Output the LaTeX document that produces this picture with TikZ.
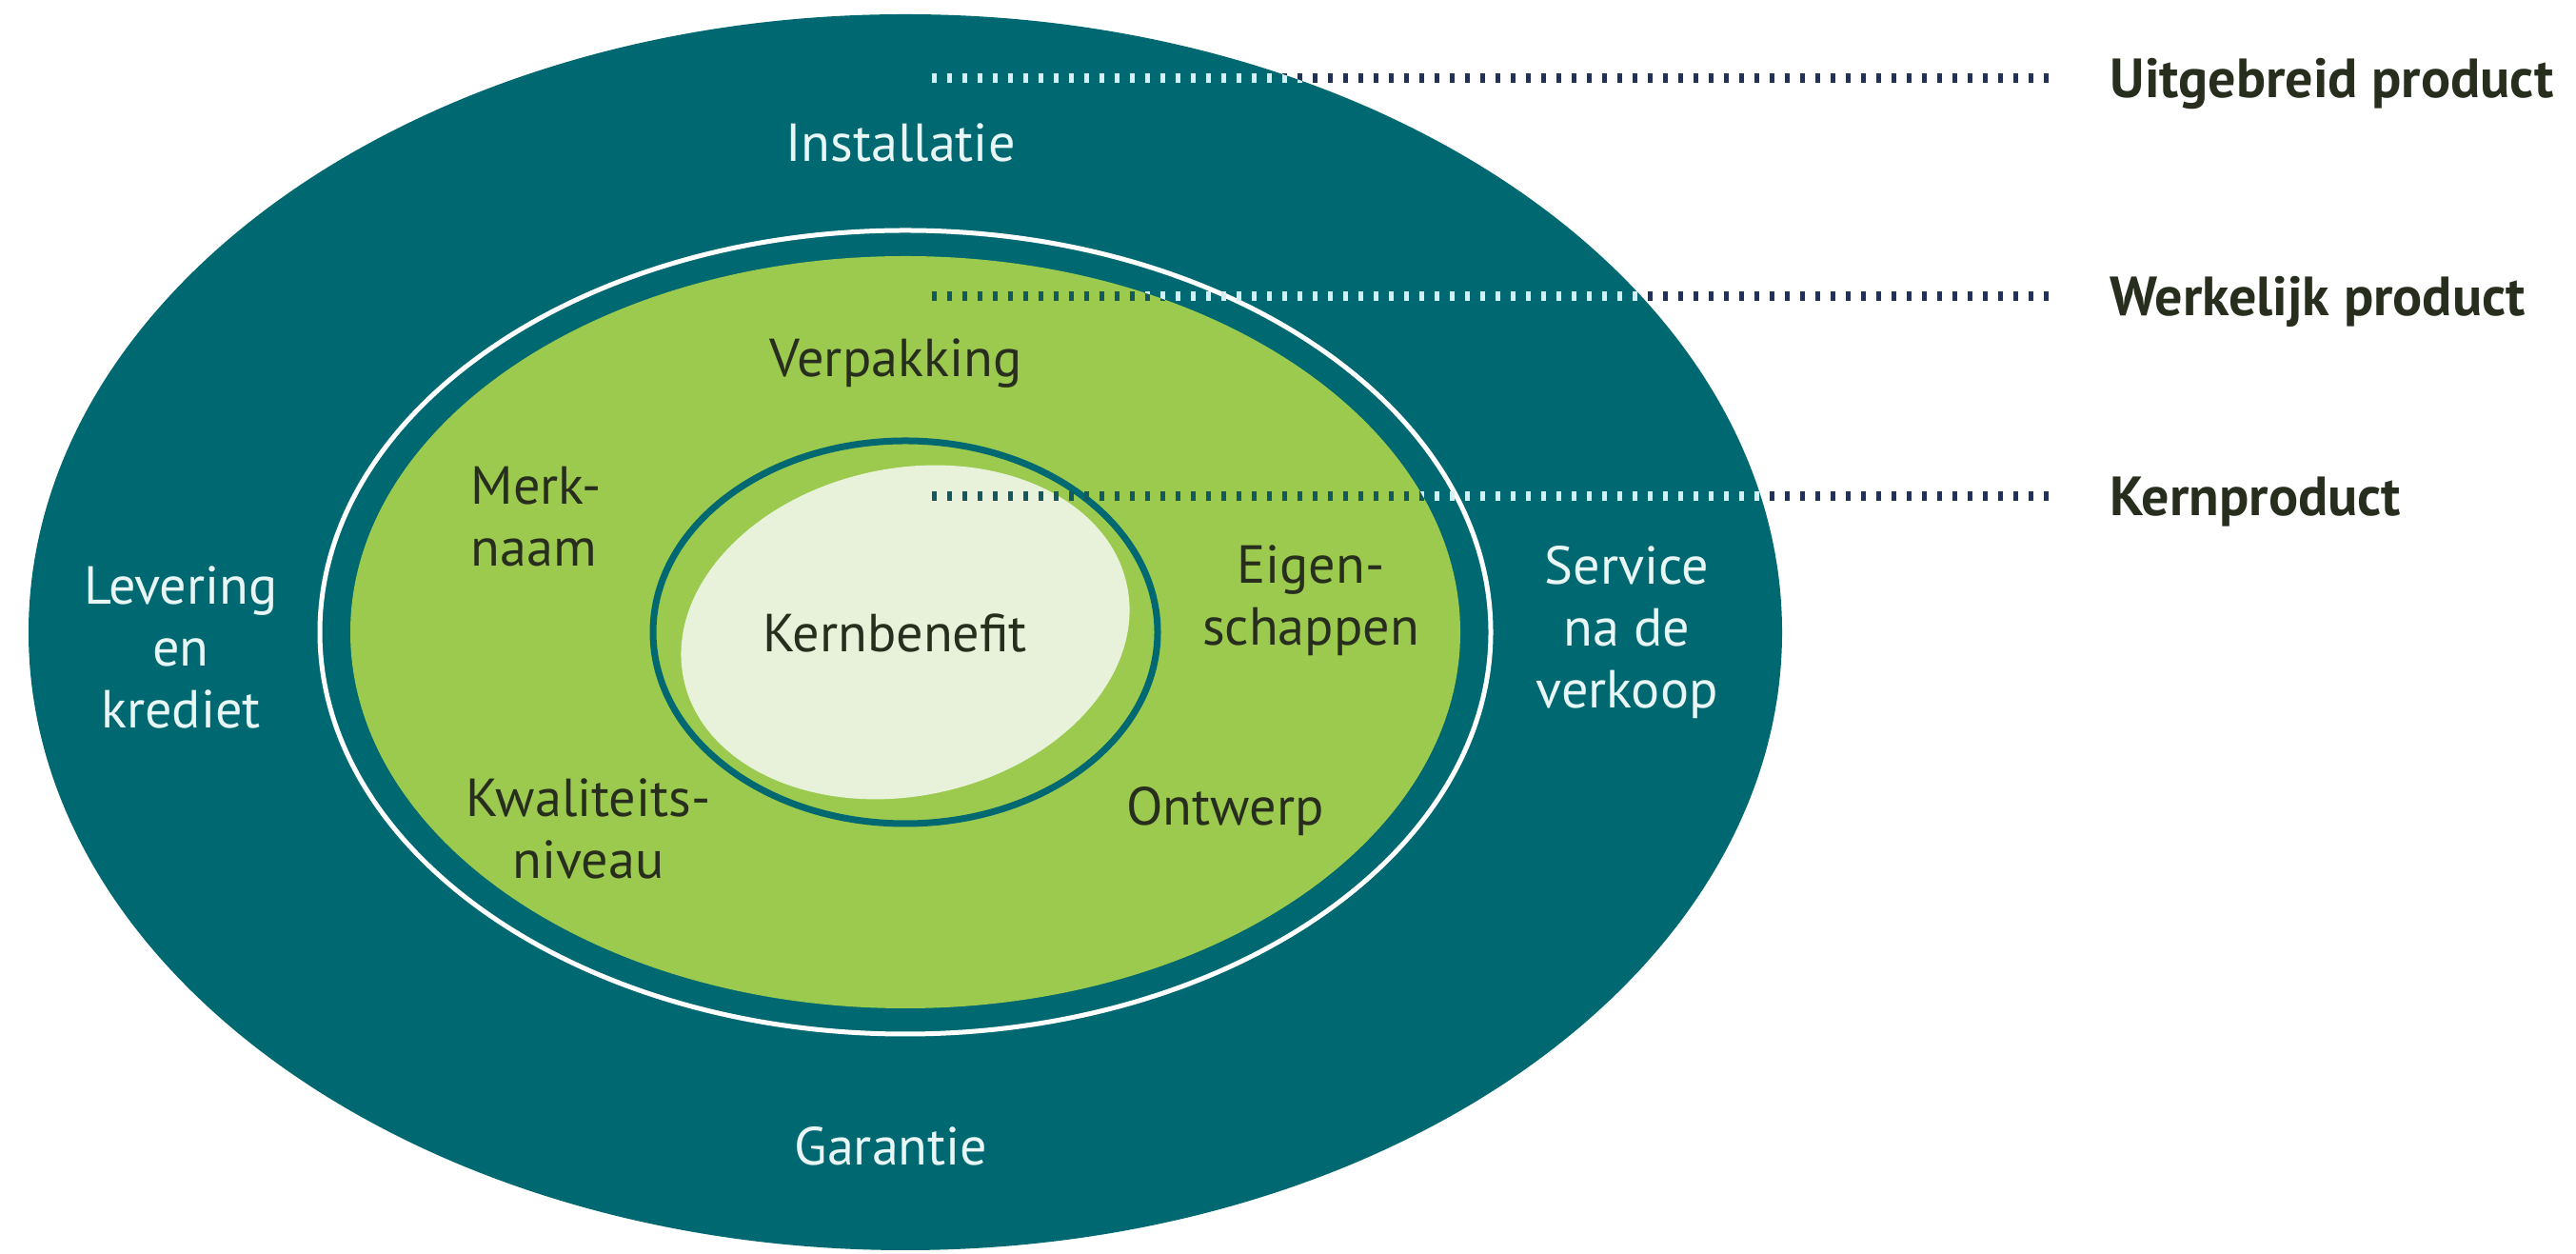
\documentclass[tikz,border=0pt]{standalone}
\usepackage{fontspec}
\setmainfont{PT Sans}
\usetikzlibrary{positioning}

\definecolor{petrol}{RGB}{0,104,112}
\definecolor{leaf}{RGB}{155,202,78}
\definecolor{core}{RGB}{232,242,218}
\definecolor{txtlight}{RGB}{232,246,246}
\definecolor{txtdark}{RGB}{40,46,30}
\definecolor{navy}{RGB}{30,50,90}
\definecolor{deepteal}{RGB}{20,88,96}
\definecolor{dotlight}{RGB}{215,238,244}

\begin{document}
\begin{tikzpicture}
    \tikzstyle{outertext}=[text=txtlight, align=center,
    font=\fontsize{16}{18.5}\selectfont]
    \tikzstyle{innertext}=[text=txtdark, align=center,
    font=\fontsize{16}{18.5}\selectfont]
    \tikzstyle{layer}=[text=txtdark, anchor=west, inner sep=0pt, text depth=0pt,
    font=\bfseries\fontsize{16.5}{19}\selectfont]
    \tikzstyle{dots}=[line width=0.1cm, dash pattern=on 0.05cm off 0.11cm]

    \useasboundingbox (0,0) rectangle (27.06,13.17);
    \coordinate (c) at (9.51,6.53);

    % rings
    \fill[petrol] (c) ellipse [x radius=9.21, y radius=6.49];
    \draw[white, line width=0.05cm] (c) ellipse [x radius=6.15, y radius=4.22];
    \fill[leaf] (c) ellipse [x radius=5.83, y radius=3.95];
    \draw[petrol, line width=0.07cm] (c) ellipse [x radius=2.65, y radius=2.01];
    \fill[core, rotate around={12:(c)}] (c) ellipse [x radius=2.38, y radius=1.72];

    % layer labels
    \foreach \n/\y/\t in {ext/12.35/Uitgebreid product,
                          act/10.06/Werkelijk product,
                          kp/7.96/Kernproduct} {
        \node[layer] (\n) at (22.16,\y) {\t};
        \coordinate (\n s) at (9.79,\y);
        \coordinate (\n e) at ([xshift=-0.54cm]\n.west);
    }

    \foreach \n in {ext,act,kp}
        \draw[dots, navy] (\n s) -- (\n e);
    \begin{scope}
        \clip (c) ellipse [x radius=9.21, y radius=6.49];
        \foreach \n in {ext,act,kp}
            \draw[dots, deepteal] (\n s) -- (\n e);
        \begin{scope}[even odd rule]
            \clip (c) ellipse [x radius=9.21, y radius=6.49]
                (c) ellipse [x radius=5.83, y radius=3.95];
            \foreach \n in {ext,act,kp}
                \draw[dots, dotlight] (\n s) -- (\n e);
        \end{scope}
    \end{scope}

    % outer ring
    \node[outertext] (inst) at (9.46,11.67) {Installatie};
    \node[outertext] (gar) at (9.36,1.13) {Garantie};
    \node[outertext] (lev) at (1.90,6.37) {Levering\\en\\krediet};
    \node[outertext] (serv) at (17.09,6.53) {Service\\na de\\verkoop};

    % actual product
    \node[innertext] (verp) at (9.41,9.35) {Verpakking};
    \node[innertext, align=left] (merk) at (5.63,7.74) {Merk-\\naam};
    \node[innertext] (eigen) at (13.77,6.86) {Eigen-\\schappen};
    \node[innertext] (kwal) at (6.18,4.47) {Kwaliteits-\\niveau};
    \node[innertext] (ontw) at (12.87,4.65) {Ontwerp};
    \node[innertext] (kern) at (9.40,6.52) {Kernbenefit};
\end{tikzpicture}
\end{document}
